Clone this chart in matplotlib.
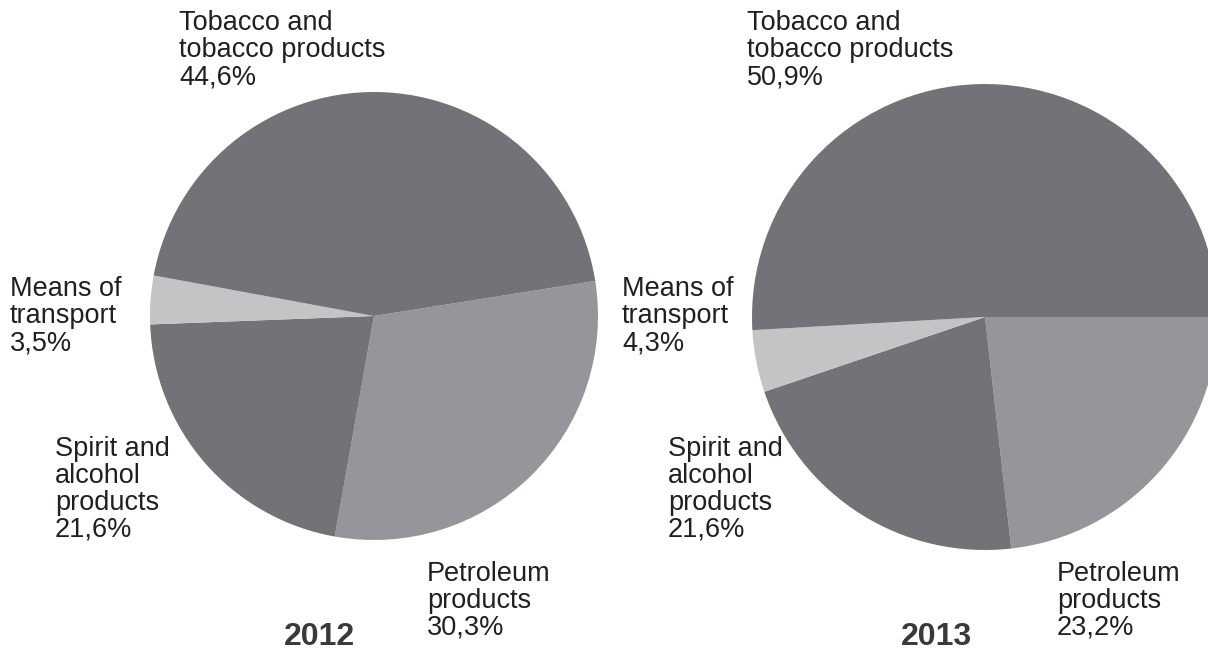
import matplotlib.pyplot as plt

# data
labels = ["Petroleum\nproducts", "Spirit and\nalcohol\nproducts", "Means of\ntransport", "Tobacco and\ntobacco products"]
share_2012 = [30.3, 21.6, 3.5, 44.6]
share_2013 = [23.2, 21.6, 4.3, 50.9]
years = ["2012", "2013"]

colors = ["#959699", "#727377", "#c3c4c6", "#727377"]
text_color = "#231f20"

W, H = 1208, 653
fig = plt.figure(figsize=(W / 100, H / 100), dpi=100)
ax = fig.add_axes([0, 0, 1, 1])

plt.rcParams['font.family'] = ['Liberation Sans', 'DejaVu Sans']

# pies, drawn in pixel coordinates (y measured from the bottom)
ax.pie(share_2012, colors=colors, startangle=9, counterclock=False,
       center=(374, H - 316), radius=224, frame=True,
       wedgeprops=dict(linewidth=0))
ax.pie(share_2013, colors=colors, startangle=0, counterclock=False,
       center=(985, H - 317), radius=233, frame=True,
       wedgeprops=dict(linewidth=0))
ax.set_xlim(0, W)
ax.set_ylim(0, H)
ax.set_aspect("equal")
ax.axis("off")

# label positions (left, top) in pixels for each slice
pos_2012 = [(427, 561), (55, 436), (10, 276), (179, 10)]
pos_2013 = [(1057, 561), (668, 436), (622, 276), (747, 10)]

for shares, pos in [(share_2012, pos_2012), (share_2013, pos_2013)]:
    for lab, val, (x, y) in zip(labels, shares, pos):
        txt = lab + "\n" + f"{val:.1f}%".replace(".", ",")
        ax.text(x, H - y, txt, ha="left", va="top", fontsize=19.5,
                color=text_color, linespacing=1.05)

# year captions
ax.text(319, H - 637, years[0], ha="center", va="center", fontsize=23,
        fontweight="bold", color="#3a3a3a")
ax.text(936, H - 637, years[1], ha="center", va="center", fontsize=23,
        fontweight="bold", color="#3a3a3a")

plt.savefig("out.png", dpi=100)
